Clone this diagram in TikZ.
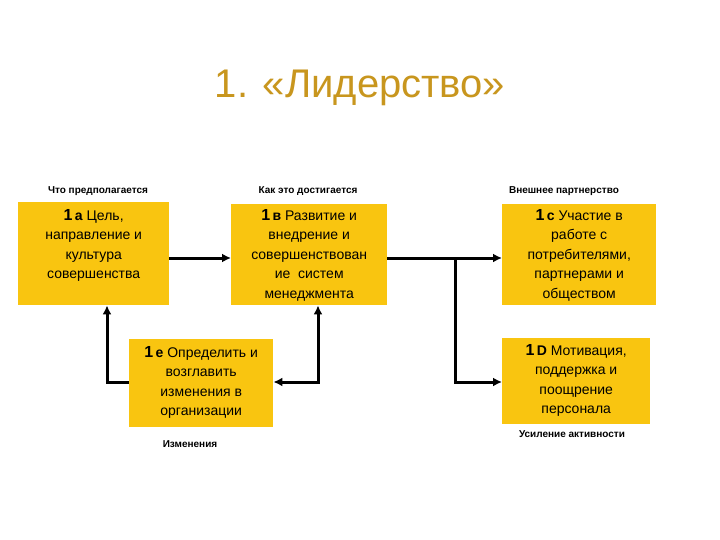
\documentclass[tikz,border=0pt]{standalone}
\usepackage{fontspec}
\setmainfont{Liberation Sans}
\usetikzlibrary{arrows.meta}
\definecolor{boxy}{HTML}{F9C510}
\definecolor{titc}{HTML}{C8961E}
\tikzset{
 bx/.style={fill=boxy,draw=none,align=center,font=\fontsize{14}{19.5}\selectfont,inner sep=2pt},
 lab/.style={font=\bfseries\fontsize{10}{12}\selectfont},
 ar/.style={line width=3pt,-{Latex[length=9pt,width=9pt]}},
}
\newcommand{\nm}[2]{{\bfseries\fontsize{16}{18}\selectfont #1}\,{\bfseries #2}}
\begin{document}
\begin{tikzpicture}[x=1pt,y=-1pt]
\useasboundingbox (0,0) rectangle (720,540);
\node[font=\fontsize{40}{45}\selectfont,text=titc] (t) at (360,88) {1. «Лидерство»};
\node[lab] (la) at (98,191) {Что предполагается};
\node[lab] (lb) at (308,191) {Как это достигается};
\node[lab] (lc) at (564,191) {Внешнее партнерство};
\node[bx,minimum width=151pt,minimum height=103pt,anchor=north west] (a) at (18,202) {};
\node[bx,anchor=north,align=center] at ([yshift=-5pt]a.north) {\nm{1}{a} Цель,\\направление и\\культура\\совершенства};
\node[bx,minimum width=156pt,minimum height=101pt,anchor=north west] (b) at (231,204) {};
\node[bx,anchor=north] at ([yshift=-3pt]b.north) {\nm{1}{в} Развитие и\\внедрение и\\совершенствован\\ие\ \ систем\\менеджмента};
\node[bx,minimum width=154pt,minimum height=101pt,anchor=north west] (c) at (502,204) {};
\node[bx,anchor=north] at ([yshift=-3pt]c.north) {\nm{1}{с} Участие в\\работе с\\потребителями,\\партнерами и\\обществом};
\node[bx,minimum width=148pt,minimum height=86pt,anchor=north west] (d) at (502,338) {};
\node[bx,anchor=north] at ([yshift=-4pt]d.north) {\nm{1}{D} Мотивация,\\поддержка и\\поощрение\\персонала};
\node[bx,minimum width=144pt,minimum height=88pt,anchor=north west] (e) at (129,339) {};
\node[bx,anchor=north] at ([yshift=-5pt]e.north) {\nm{1}{е} Определить и\\возглавить\\изменения в\\организации};
\node[lab] (le) at (190,444) {Изменения};
\node[lab] (ld) at (572,434) {Усиление активности};
\coordinate (j) at (455,258);
\draw[ar] (a.east|-0,258) -- (b.west|-0,258);
\draw[ar] (b.east|-0,258) -- (c.west|-0,258);
\draw[ar] (j) |- (d.west|-0,382);
\draw[ar] (e.west|-0,382) -| (a.south-|107,0);
\draw[line width=3pt,{Latex[length=9pt,width=9pt]}-{Latex[length=9pt,width=9pt]}] (e.east|-0,382) -| (b.south-|318,0);
\end{tikzpicture}
\end{document}
